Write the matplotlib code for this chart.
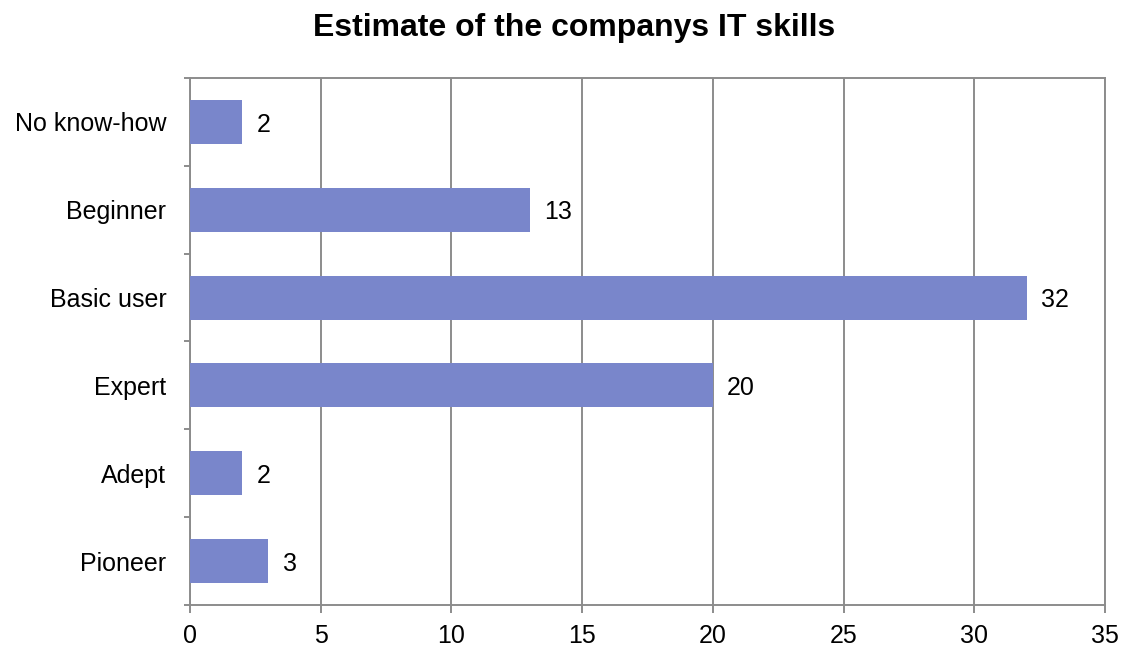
import numpy as np
import matplotlib
matplotlib.use("Agg")
import matplotlib.pyplot as plt

# data
categories = ["No know-how", "Beginner", "Basic user", "Expert", "Adept", "Pioneer"]
counts = [2, 13, 32, 20, 2, 3]
xticks = [0, 5, 10, 15, 20, 25, 30, 35]

plt.rcParams['font.family'] = ['Liberation Sans', 'DejaVu Sans']

fig = plt.figure(figsize=(11.25, 6.48), dpi=100)
ax = fig.add_axes([0.1689, 0.0664, 0.8133, 0.8132])

grey = '#8c8c8c'
pos = np.arange(len(categories))
ax.barh(pos, counts, height=0.5, color='#7986CB', zorder=3)

for p, v in zip(pos, counts):
    ax.text(v + 0.55, p + 0.03, str(v), va='center', ha='left', fontsize=18, zorder=4)

ax.set_xlim(0, 35)
ax.set_ylim(len(categories) - 0.5, -0.5)
ax.set_xticks(xticks)
ax.set_yticks(pos)
ax.set_yticklabels(categories)
ax.set_yticks(np.arange(len(categories) + 1) - 0.5, minor=True)

ax.grid(axis='x', color=grey, linewidth=1.4, zorder=0)
for s in ax.spines.values():
    s.set_color(grey)
    s.set_linewidth(1.4)

ax.tick_params(axis='x', which='major', length=6, width=1.4, color=grey,
               labelsize=18, pad=8)
ax.tick_params(axis='y', which='major', length=0, labelsize=18, pad=17)
ax.tick_params(axis='y', which='minor', length=4, width=1.4, color=grey)

fig.suptitle("Estimate of the companys IT skills", x=0.51, y=0.98,
             fontsize=23, fontweight='bold', va='top')

fig.savefig("out.png", dpi=100)
